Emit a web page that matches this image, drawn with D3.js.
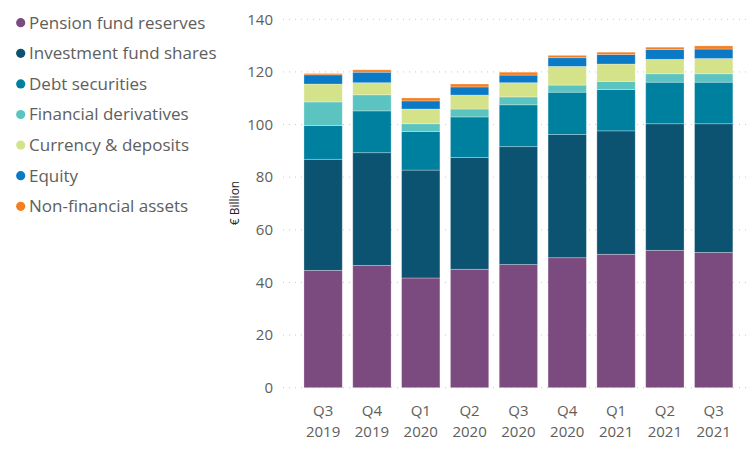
<!DOCTYPE html>
<html>
<head>
<meta charset="utf-8">
<script src="https://cdn.jsdelivr.net/npm/d3@7"></script>
<style>
    body { margin: 0; background: #fff; }
    svg text { font-family: "Segoe UI", "Open Sans", sans-serif; }
</style>
</head>
<body>
<div id="chart"></div>
<script>
const quarters = ['Q3 2019', 'Q4 2019', 'Q1 2020', 'Q2 2020', 'Q3 2020', 'Q4 2020', 'Q1 2021', 'Q2 2021', 'Q3 2021'];

const seriesNames = ['Pension fund reserves', 'Investment fund shares', 'Debt securities',
    'Financial derivatives', 'Currency & deposits', 'Equity', 'Non-financial assets'];

// € billion per quarter
const pensionFundReserves = [44.6, 46.5, 41.7, 45.0, 46.8, 49.4, 50.7, 52.2, 51.4];
const investmentFundShares = [42.2, 42.8, 41.0, 42.5, 44.8, 46.8, 46.9, 48.1, 48.9];
const debtSecurities = [12.8, 15.9, 14.7, 15.4, 15.9, 16.1, 15.7, 15.8, 15.8];
const financialDerivatives = [9.0, 6.1, 2.9, 3.0, 3.0, 2.7, 3.1, 3.2, 3.2];
const currencyDeposits = [6.8, 4.6, 5.6, 5.3, 5.4, 7.1, 6.6, 5.5, 5.8];
const equity = [3.5, 4.0, 3.1, 3.1, 2.9, 3.3, 3.6, 3.7, 3.6];
const nonFinancialAssets = [0.5, 0.9, 1.1, 1.1, 1.1, 0.9, 0.9, 0.9, 1.2];

const yTicks = [0, 20, 40, 60, 80, 100, 120, 140];

const colors = ['#7b4a7e', '#0b5370', '#00809f', '#5cc4c0', '#d4e38a', '#0a79c6', '#f47e22'];

const width = 756;
const height = 450;

const seriesValues = [pensionFundReserves, investmentFundShares, debtSecurities,
    financialDerivatives, currencyDeposits, equity, nonFinancialAssets];

const data = quarters.map((q, i) => {
    const row = { quarter: q };
    seriesNames.forEach((name, j) => { row[name] = seriesValues[j][i]; });
    return row;
});

const svg = d3.select('#chart').append('svg')
    .attr('width', width)
    .attr('height', height);

const x = d3.scaleBand()
    .domain(quarters)
    .range([283, 750])
    .paddingInner(0.215)
    .paddingOuter(0.39)
    .align(0.55);

const y = d3.scaleLinear()
    .domain([0, 140])
    .range([387.7, 19.3]);

const z = d3.scaleOrdinal()
    .domain(seriesNames)
    .range(colors);

// grid lines, dotted
svg.append('g')
    .attr('class', 'grid')
    .selectAll('line')
    .data(yTicks)
    .enter().append('line')
    .attr('x1', 283)
    .attr('x2', 750)
    .attr('y1', d => y(d))
    .attr('y2', d => y(d))
    .attr('stroke', '#c8c8c8')
    .attr('stroke-width', 1)
    .attr('stroke-dasharray', '1,5');

// y axis
const yAxis = svg.append('g')
    .attr('transform', 'translate(283,0)')
    .call(d3.axisLeft(y).tickValues(yTicks).tickSize(0).tickPadding(10));
yAxis.select('.domain').remove();
yAxis.selectAll('.tick text')
    .attr('fill', '#605e5c')
    .style('font-size', '15px');

svg.append('text')
    .attr('transform', 'translate(239,203) rotate(-90)')
    .attr('text-anchor', 'middle')
    .attr('fill', '#252423')
    .style('font-size', '12px')
    .text('€ Billion');

// x axis with two-line labels
const xAxis = svg.append('g')
    .attr('transform', 'translate(0,387.7)')
    .call(d3.axisBottom(x).tickSize(0).tickFormat(''));
xAxis.select('.domain').remove();
xAxis.selectAll('.tick').each(function (d) {
    const parts = d.split(' ');
    const t = d3.select(this).append('text')
        .attr('text-anchor', 'middle')
        .attr('fill', '#605e5c')
        .style('font-size', '15px');
    t.append('tspan').attr('x', 0).attr('y', 28).text(parts[0]);
    t.append('tspan').attr('x', 0).attr('y', 49).text(parts[1]);
});

// stacked bars
const stacked = d3.stack().keys(seriesNames)(data);

svg.append('g')
    .attr('class', 'graph-bars')
    .selectAll('g')
    .data(stacked)
    .enter().append('g')
    .attr('fill', d => z(d.key))
    .selectAll('rect')
    .data(d => d)
    .enter().append('rect')
    .attr('x', d => x(d.data.quarter))
    .attr('y', d => y(d[1]))
    .attr('width', x.bandwidth())
    .attr('height', d => y(d[0]) - y(d[1]))
    .attr('stroke', 'rgba(255,255,255,0.35)')
    .attr('stroke-width', 0.8);

// legend
const legend = svg.append('g')
    .attr('class', 'legends')
    .selectAll('g')
    .data(seriesNames)
    .enter().append('g')
    .attr('transform', (d, i) => 'translate(0,' + (22.7 + i * 30.6) + ')');

legend.append('circle')
    .attr('cx', 20.7)
    .attr('cy', 0)
    .attr('r', 4.6)
    .attr('fill', d => z(d));

legend.append('text')
    .attr('x', 29)
    .attr('y', 0)
    .attr('dy', '0.35em')
    .attr('fill', '#605e5c')
    .style('font-size', '17px')
    .text(d => d);
</script>
</body>
</html>
